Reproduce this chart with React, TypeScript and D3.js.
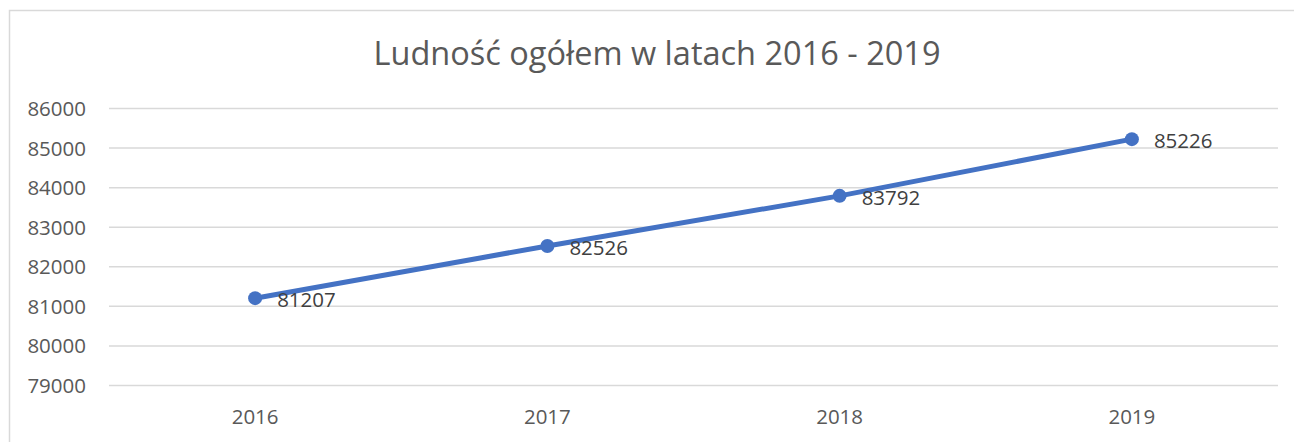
import React from "react";
import * as d3 from "d3";

const years: string[] = ["2016", "2017", "2018", "2019"];
const population: number[] = [81207, 82526, 83792, 85226];
const yTicks: number[] = [79000, 80000, 81000, 82000, 83000, 84000, 85000, 86000];
const title = "Ludność ogółem w latach 2016 - 2019";

export default function App() {
  const W = 1294;
  const H = 442;
  const left = 109;
  const right = 1278;
  const top = 108.5;
  const bottom = 385.5;

  const x = d3.scaleBand<string>().domain(years).range([left, right]);
  const y = d3.scaleLinear().domain([79000, 86000]).range([bottom, top]);
  const cx = (d: string) => (x(d) as number) + x.bandwidth() / 2;

  const line = d3
    .line<number>()
    .x((_, i) => cx(years[i]))
    .y((d) => y(d));

  const font = "'Open Sans', 'Liberation Sans', sans-serif";

  return (
    <svg
      width={W}
      height={H}
      style={{ position: "absolute", left: 0, top: 0, background: "#fff" }}
      fontFamily={font}
    >
      <rect x={9.5} y={10.5} width={1400} height={500} fill="#fff" stroke="#d9d9d9" strokeWidth={1.5} />
      <text x={657} y={65} textAnchor="middle" fontSize={32.5} fill="#595959">
        {title}
      </text>
      {yTicks.map((t) => (
        <g key={t}>
          <line x1={left} x2={right} y1={y(t)} y2={y(t)} stroke="#d9d9d9" strokeWidth={1.5} />
          <text x={86} y={y(t) + 7.5} textAnchor="end" fontSize={20.5} fill="#595959">
            {t}
          </text>
        </g>
      ))}
      {years.map((yr) => (
        <text key={yr} x={cx(yr)} y={424} textAnchor="middle" fontSize={20.5} fill="#595959">
          {yr}
        </text>
      ))}
      <path d={line(population) || ""} fill="none" stroke="#4472C4" strokeWidth={5} strokeLinecap="round" />
      {population.map((v, i) => (
        <g key={i}>
          <circle cx={cx(years[i])} cy={y(v)} r={7} fill="#4472C4" />
          <text x={cx(years[i]) + 22} y={y(v) + 9} fontSize={20.5} fill="#404040">
            {v}
          </text>
        </g>
      ))}
    </svg>
  );
}
